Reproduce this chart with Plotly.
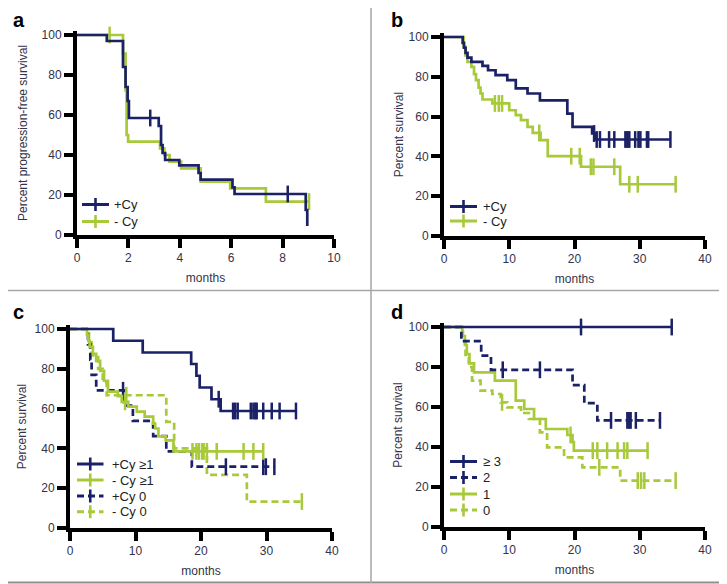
import plotly.graph_objects as go

NAVY = "#1b2166"
GREEN = "#a8c93a"
FONT = "Liberation Sans, Arial, sans-serif"

# ---------------- data ----------------
# panel a : progression-free survival
a_pos_t = [0, 1.16, 1.79, 1.89, 1.97, 2.02, 3.18, 3.27, 3.33, 3.43, 3.98, 4.73, 4.81, 6.05, 6.13, 8.9, 8.96]
a_pos_s = [100, 97, 84, 74, 67, 58.5, 54.5, 45, 41, 37.5, 34.8, 31, 27.7, 23.8, 20.5, 12.5, 4.5]
a_pos_c = [2.85, 8.2]
a_neg_t = [0, 1.79, 1.89, 1.93, 1.99, 3.23, 3.4, 3.6, 4.05, 4.81, 5.96, 7.35]
a_neg_s = [100, 90.7, 72.3, 50, 46.7, 43.3, 40, 36.7, 33.3, 26.7, 23.3, 16.7]
a_neg_c = [1.27, 9.03]

# panel b : survival
b_pos_t = [0, 2.86, 3.07, 3.3, 3.6, 4.2, 5.9, 6.75, 7.9, 9.7, 11.0, 12.8, 14.7, 18.9, 19.7, 22.7, 23.3]
b_pos_s = [100, 97, 94.6, 92, 89.6, 87.5, 85.5, 83.3, 80.8, 78.3, 74.2, 71.6, 68.2, 61.5, 54.8, 51.5, 48.5]
b_pos_c = [23.0, 23.4, 23.9, 25.3, 26.1, 27.8, 28.1, 28.4, 29.3, 29.8, 30.1, 31.1, 31.3, 34.7]
b_neg_t = [0, 3.0, 3.3, 3.6, 4.2, 4.6, 4.9, 5.3, 5.6, 5.9, 7.4, 10.0, 11.0, 11.8, 12.8, 13.6, 14.8, 15.9, 21.0, 27.0]
b_neg_s = [100, 95, 90.8, 87.5, 85, 81.3, 78.3, 74.6, 71.6, 68.6, 66.6, 63.2, 60.7, 58.2, 54.8, 51.8, 48.2, 40.1, 34.8, 26.0]
b_neg_c = [7.8, 8.4, 8.9, 14.6, 19.5, 20.8, 22.5, 22.9, 26.1, 28.4, 29.7, 35.5]

# panel c
c_pos1_t = [0, 6.6, 11.1, 18.5, 19.3, 19.8, 21.6, 23.0]
c_pos1_s = [100, 94.1, 88.2, 82.4, 76.5, 70.6, 64.7, 58.8]
c_pos1_c = [22.7, 24.9, 25.2, 25.6, 27.6, 28.0, 28.3, 28.5, 29.5, 30.8, 32.0, 34.5]
c_neg1_t = [0, 2.6, 2.8, 3.0, 3.5, 4.0, 4.6, 5.2, 5.8, 7.3, 7.9, 8.9, 10.2, 11.4, 12.7, 13.0, 13.5, 14.6, 15.8]
c_neg1_s = [100, 97, 94, 91, 87.5, 84, 79, 74, 68.5, 66.3, 63.4, 61, 58.5, 56, 52.5, 50, 46, 44, 38.5]
c_neg1_c = [8.4, 18.7, 19.3, 19.7, 20.2, 20.4, 20.9, 22.4, 26.5, 28.0, 29.5]
c_pos0_t = [0, 2.75, 3.1, 3.3, 4.0, 8.2, 9.6, 12.7, 14.7, 18.6]
c_pos0_s = [100, 92.3, 84.6, 76.9, 69.2, 61.5, 53.8, 46.2, 38.5, 30.8]
c_pos0_c = [8.1, 23.8, 29.5, 29.9, 31.2]
c_neg0_t = [0, 2.9, 3.3, 4.3, 5.0, 5.6, 14.7, 15.9, 20.9, 27.0]
c_neg0_s = [100, 93.3, 86.7, 80, 73.3, 66.7, 53.3, 40, 26.7, 13.3]
c_neg0_c = [8.6, 35.4]

# panel d
d_3_t = [0]
d_3_s = [100]
d_3_c = [21.0, 34.9]
d_2_t = [0, 2.66, 5.7, 7.2, 19.7, 21.5, 23.5]
d_2_s = [100, 92.9, 85.7, 78.6, 70.9, 61.9, 53.3]
d_2_c = [9.0, 14.7, 25.6, 28.1, 28.4, 28.6, 29.4, 33.1]
d_1_t = [0, 2.8, 3.2, 3.5, 3.9, 4.6, 7.8, 11.0, 12.3, 13.8, 15.6, 18.9, 19.7, 19.9]
d_1_s = [100, 95.5, 91, 86.4, 81.8, 77.3, 73.2, 63.2, 59, 54, 49, 46, 42.5, 38.2]
d_1_c = [19.4, 22.8, 23.5, 25.0, 26.6, 27.6, 28.1, 31.2]
d_0_t = [0, 2.9, 3.3, 3.8, 4.3, 5.6, 7.4, 8.7, 9.7, 11.8, 13.0, 14.7, 15.8, 18.4, 21.2, 27.0]
d_0_s = [100, 93, 86, 80, 73.2, 68.2, 66.5, 62.3, 59.8, 57, 54, 47.3, 39.8, 34.8, 29.8, 23.2]
d_0_c = [8.9, 23.8, 29.7, 30.2, 30.7, 35.5]

x_ticks_a = [0, 2, 4, 6, 8, 10]
x_ticks_bcd = [0, 10, 20, 30, 40]
y_ticks = [0, 20, 40, 60, 80, 100]

legend_a = ["+Cy", "- Cy"]
legend_b = ["+Cy", "- Cy"]
legend_c = ["+Cy ≥1", "- Cy ≥1", "+Cy 0", "- Cy 0"]
legend_d = ["≥ 3", "2", "1", "0"]

# ---------------- helpers ----------------
W, H = 727, 584
OFF = 8  # the page body adds an 8 px margin; positions below are screen pixels
DASH = "7px,4px"


def px_x(p):
    return (p - OFF) / W


def px_y(p):
    return 1 - (p - OFF) / H


def step_xy(t, s, c):
    end = max([t[-1]] + list(c))
    x = list(t)
    y = list(s)
    if end > t[-1]:
        x.append(end)
        y.append(s[-1])
    return x, y


def surv_at(t, s, ct):
    v = s[0]
    for ti, si in zip(t, s):
        if ti <= ct:
            v = si
    return v


fig = go.Figure()


def add_curve(t, s, c, color, dash, ax, width=2.7):
    xa, ya = ax
    x, y = step_xy(t, s, c)
    fig.add_trace(go.Scatter(x=x, y=y, mode="lines", line=dict(color=color, width=width, dash=dash, shape="hv"),
                             xaxis=xa, yaxis=ya, showlegend=False, hoverinfo="skip"))
    fig.add_trace(go.Scatter(x=c, y=[surv_at(t, s, ct) for ct in c], mode="markers",
                             marker=dict(symbol="line-ns", size=12, line=dict(color=color, width=2.5)),
                             xaxis=xa, yaxis=ya, showlegend=False, cliponaxis=False, hoverinfo="skip"))


# panel a (green drawn below navy)
add_curve(a_neg_t, a_neg_s, a_neg_c, GREEN, "solid", ("x", "y"))
add_curve(a_pos_t, a_pos_s, a_pos_c, NAVY, "solid", ("x", "y"))
# panel b
add_curve(b_neg_t, b_neg_s, b_neg_c, GREEN, "solid", ("x2", "y2"))
add_curve(b_pos_t, b_pos_s, b_pos_c, NAVY, "solid", ("x2", "y2"))
# panel c
add_curve(c_neg0_t, c_neg0_s, c_neg0_c, GREEN, DASH, ("x3", "y3"))
add_curve(c_pos0_t, c_pos0_s, c_pos0_c, NAVY, DASH, ("x3", "y3"))
add_curve(c_neg1_t, c_neg1_s, c_neg1_c, GREEN, "solid", ("x3", "y3"))
add_curve(c_pos1_t, c_pos1_s, c_pos1_c, NAVY, "solid", ("x3", "y3"))
# panel d
add_curve(d_0_t, d_0_s, d_0_c, GREEN, DASH, ("x4", "y4"))
add_curve(d_1_t, d_1_s, d_1_c, GREEN, "solid", ("x4", "y4"))
add_curve(d_2_t, d_2_s, d_2_c, NAVY, DASH, ("x4", "y4"))
add_curve(d_3_t, d_3_s, d_3_c, NAVY, "solid", ("x4", "y4"))

axis_common = dict(showline=True, linewidth=4, linecolor="black", ticks="outside", ticklen=9, tickwidth=3.5,
                   tickcolor="black", showgrid=False, zeroline=False, automargin=False,
                   tickfont=dict(family=FONT, size=12, color="#33334a"))
title_font = dict(family=FONT, size=12, color="#33334a")

YMAX = 102  # a little head-room so lines at 100 are not clipped
domains = {
    "a": ([77, 334], [235, 35]),
    "b": ([444, 705], [236, 37]),
    "c": ([70, 332], [528, 329]),
    "d": ([444, 705], [527, 327]),
}
ystand = {"a": 12, "b": 3, "c": 6, "d": 4}
names = [("xaxis", "yaxis", "x", "y", "a"), ("xaxis2", "yaxis2", "x2", "y2", "b"),
         ("xaxis3", "yaxis3", "x3", "y3", "c"), ("xaxis4", "yaxis4", "x4", "y4", "d")]
layout = {}
for xk, yk, xr, yr, p in names:
    (x0, x1), (y0, y1) = domains[p]
    top = y1 - (YMAX - 100) * (y0 - y1) / 100.0
    xt = x_ticks_a if p == "a" else x_ticks_bcd
    layout[xk] = dict(axis_common, domain=[px_x(x0), px_x(x1)], range=[xt[0], xt[-1]], tickvals=xt,
                      anchor=yr, title=dict(text="months", font=title_font, standoff=10))
    ytitle = "Percent progression-free survival" if p == "a" else "Percent survival"
    layout[yk] = dict(axis_common, domain=[px_y(y0), px_y(top)], range=[0, YMAX], tickvals=y_ticks,
                      anchor=xr, title=dict(text=ytitle, font=title_font, standoff=ystand[p]))

# ---------------- legends (drawn as paper shapes + text) ----------------
shapes = []
annotations = []
leg_specs = [
    (legend_a, [NAVY, GREEN], ["solid", "solid"], 82, 109, 112, [204.5, 221.5]),
    (legend_b, [NAVY, GREEN], ["solid", "solid"], 450, 477, 481, [206.5, 221.0]),
    (legend_c, [NAVY, GREEN, NAVY, GREEN], ["solid", "solid", DASH, DASH], 77, 103.5, 110,
     [464, 480, 496, 511.7]),
    (legend_d, [NAVY, NAVY, GREEN, GREEN], ["solid", DASH, "solid", DASH], 450, 477, 481,
     [461.5, 477.5, 494, 510]),
]
for labels, cols, dashes, lx0, lx1, tx, ys in leg_specs:
    for lab, col, dsh, yy in zip(labels, cols, dashes, ys):
        shapes.append(dict(type="line", xref="paper", yref="paper", x0=px_x(lx0), x1=px_x(lx1),
                           y0=px_y(yy), y1=px_y(yy), line=dict(color=col, width=3, dash=dsh)))
        xc = (lx0 + lx1) / 2
        shapes.append(dict(type="line", xref="paper", yref="paper", x0=px_x(xc), x1=px_x(xc),
                           y0=px_y(yy - 6.5), y1=px_y(yy + 6.5), line=dict(color=col, width=2.6)))
        annotations.append(dict(text=lab, x=px_x(tx), y=px_y(yy), xref="paper", yref="paper",
                                xanchor="left", yanchor="middle", showarrow=False,
                                font=dict(family=FONT, size=13, color="#222222")))

letters = [("a", 12, 20.5), ("b", 390, 20.0), ("c", 12, 312.5), ("d", 390, 311.5)]
for l, xx, yy in letters:
    annotations.append(dict(text=f"<b>{l}</b>", x=px_x(xx), y=px_y(yy), xref="paper", yref="paper",
                            xanchor="left", yanchor="middle", showarrow=False, borderpad=0,
                            font=dict(family=FONT, size=20, color="black")))

frame_col = "#8e8e8e"
shapes += [
    dict(type="line", xref="paper", yref="paper", x0=px_x(726), x1=px_x(726), y0=px_y(583), y1=px_y(8),
         line=dict(color=frame_col, width=2)),
    dict(type="line", xref="paper", yref="paper", x0=px_x(8), x1=px_x(727), y0=px_y(582.5), y1=px_y(582.5),
         line=dict(color=frame_col, width=2)),
    dict(type="line", xref="paper", yref="paper", x0=px_x(371), x1=px_x(371), y0=px_y(583), y1=px_y(8),
         line=dict(color="#a6a6a6", width=1.5)),
    dict(type="line", xref="paper", yref="paper", x0=px_x(8), x1=px_x(726), y0=px_y(290.5), y1=px_y(290.5),
         line=dict(color="#a6a6a6", width=1.5)),
]

fig.update_layout(width=W, height=H, autosize=False, margin=dict(l=0, r=0, t=0, b=0, pad=0),
                  paper_bgcolor="white", plot_bgcolor="white", annotations=annotations, shapes=shapes,
                  showlegend=False, **layout)

fig.write_html("out.html")
